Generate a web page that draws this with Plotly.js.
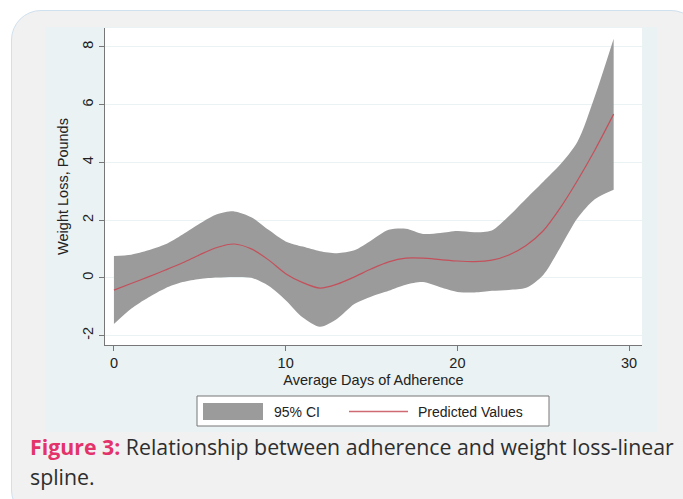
<!DOCTYPE html>
<html>
<head>
<meta charset="utf-8">
<script src="https://cdn.plot.ly/plotly-3.0.1.min.js"></script>
<style>
  html, body { margin: 0; padding: 0; width: 683px; height: 499px; overflow: hidden; background: #ffffff; }
  #card { position: absolute; left: 11px; top: 10px; width: 690px; height: 510px; background: #f1f1f1;
          border: 1.5px solid #cfe0ee; border-radius: 30px; box-sizing: border-box; }
  #chart { position: absolute; left: 45px; top: 27px; width: 612px; height: 405px; }
  #caption { position: absolute; left: 30px; top: 432px; width: 660px; font-family: "Open Sans", "Lato", sans-serif;
             font-size: 21.3px; line-height: 30px; color: #2e2e2e; white-space: nowrap; }
  #caption .lab { color: #e3336a; font-weight: 700; }
</style>
</head>
<body>
<div id="card"></div>
<div id="chart"></div>
<div id="caption">
  <div><span class="lab">Figure 3:</span> <span>Relationship between adherence and weight loss-linear</span></div>
  <div>spline.</div>
</div>
<script>
// Average days of adherence
const days = [0,1,2,3,4,5,6,7,8,9,10,11,12,13,14,15,16,17,18,19,20,21,22,23,24,25,26,27,28,29.1];
// Predicted weight loss (pounds)
const predicted = [-0.43,-0.20,0.03,0.27,0.52,0.80,1.05,1.17,1.00,0.62,0.14,-0.17,-0.36,-0.22,0.03,0.31,0.55,0.68,0.68,0.63,0.58,0.56,0.61,0.79,1.12,1.63,2.43,3.38,4.42,5.67];
// 95% CI upper bound
const ciUpper = [0.75,0.80,0.95,1.16,1.50,1.88,2.20,2.30,2.10,1.66,1.26,1.08,0.92,0.85,0.95,1.30,1.66,1.70,1.52,1.55,1.62,1.58,1.64,2.14,2.74,3.33,3.93,4.72,6.28,8.28];
// 95% CI lower bound
const ciLower = [-1.60,-1.07,-0.68,-0.36,-0.15,-0.04,0.01,0.03,0.00,-0.28,-0.78,-1.38,-1.70,-1.42,-0.91,-0.65,-0.45,-0.24,-0.15,-0.33,-0.49,-0.51,-0.45,-0.42,-0.35,0.10,1.06,2.07,2.72,3.05];
const xTicks = [0,10,20,30];
const yTicks = [-2,0,2,4,6,8];
const legendLabels = ["95% CI", "Predicted Values"];

const bandColor = "#9b9b9b";
const lineColor = "#c4505b";
const font = "Liberation Sans, Arial, sans-serif";

const traces = [
  {x: days, y: ciLower, type: "scatter", mode: "lines", line: {width: 0, shape: "spline", smoothing: 0.8},
   hoverinfo: "skip", showlegend: false},
  {x: days, y: ciUpper, type: "scatter", mode: "lines", fill: "tonexty", fillcolor: bandColor,
   line: {width: 0, shape: "spline", smoothing: 0.8}, name: legendLabels[0], showlegend: false},
  {x: days, y: predicted, type: "scatter", mode: "lines", line: {color: lineColor, width: 1.2, shape: "spline", smoothing: 0.8},
   name: legendLabels[1], showlegend: false}
];

const px = v => (v - 105) / 537;   // page x -> paper x
const py = v => (345 - v) / 317;   // page y -> paper y

const layout = {
  width: 612, height: 405,
  margin: {l: 60, r: 15, t: 1, b: 87},
  paper_bgcolor: "#eaf2f3",
  plot_bgcolor: "#ffffff",
  font: {family: font, size: 14, color: "#222222"},
  showlegend: false,
  xaxis: {
    range: [-0.52, 30.75], tickvals: xTicks, ticktext: xTicks.map(String),
    ticks: "outside", ticklen: 5, tickcolor: "#777777", tickwidth: 1,
    showline: true, linecolor: "#777777", linewidth: 1,
    showgrid: false, zeroline: false,
    tickfont: {family: font, size: 14.5, color: "#222222"},
    title: {text: "Average Days of Adherence", font: {family: font, size: 14.5, color: "#222222"}, standoff: 4}
  },
  yaxis: {
    range: [-2.33, 8.655], tickvals: yTicks, ticktext: yTicks.map(String), tickangle: -90,
    ticks: "outside", ticklen: 5, tickcolor: "#777777", tickwidth: 1,
    showline: true, linecolor: "#777777", linewidth: 1,
    showgrid: true, gridcolor: "#eaf2f3", gridwidth: 1, zeroline: false,
    tickfont: {family: font, size: 14.5, color: "#222222"},
    title: {text: "Weight Loss, Pounds", font: {family: font, size: 14.5, color: "#222222"}, standoff: 8}
  },
  shapes: [
    {type: "rect", xref: "paper", yref: "paper", x0: px(197), x1: px(549), y0: py(396), y1: py(426),
     line: {color: "#777777", width: 1}, fillcolor: "#ffffff"},
    {type: "rect", xref: "paper", yref: "paper", x0: px(203), x1: px(263), y0: py(403), y1: py(420),
     line: {width: 0}, fillcolor: bandColor},
    {type: "line", xref: "paper", yref: "paper", x0: px(349), x1: px(408), y0: py(411.5), y1: py(411.5),
     line: {color: "#d06a72", width: 1.5}}
  ],
  annotations: [
    {xref: "paper", yref: "paper", x: px(272), y: py(411.5), xanchor: "left", yanchor: "middle", showarrow: false,
     text: legendLabels[0], font: {family: font, size: 14, color: "#222222"}},
    {xref: "paper", yref: "paper", x: px(416), y: py(411.5), xanchor: "left", yanchor: "middle", showarrow: false,
     text: legendLabels[1], font: {family: font, size: 14, color: "#222222"}}
  ]
};

Plotly.newPlot("chart", traces, layout, {displayModeBar: false, staticPlot: true});
</script>
</body>
</html>
